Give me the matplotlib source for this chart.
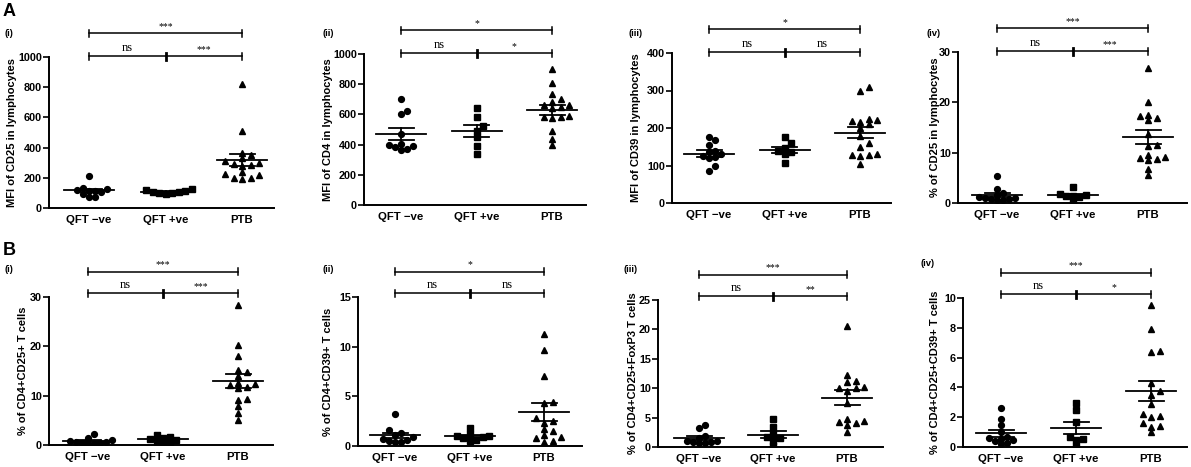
import numpy as np
import matplotlib
matplotlib.use("Agg")
import matplotlib.pyplot as plt

plt.rcParams['font.family'] = ['Liberation Sans', 'DejaVu Sans']
plt.rcParams['font.weight'] = 'bold'

W, H = 1191, 467

groups = ["QFT \u2212ve", "QFT +ve", "PTB"]

# values, one list per group
# A(i) MFI of CD25 in lymphocytes
a1_neg = [213, 130, 125, 120, 115, 110, 105, 95, 75, 72]
a1_pos = [125, 118, 110, 108, 105, 102, 100, 95]
a1_ptb = [820, 510, 365, 350, 330, 310, 300, 290, 285, 280, 240, 225, 220, 200, 200, 195]
# A(ii) MFI of CD4 in lymphocytes
a2_neg = [700, 622, 605, 470, 405, 395, 390, 385, 372, 365]
a2_pos = [640, 580, 520, 490, 450, 390, 340]
a2_ptb = [900, 805, 735, 700, 685, 665, 660, 650, 640, 590, 585, 580, 575, 490, 435, 395]
# A(iii) MFI of CD39 in lymphocytes
a3_neg = [175, 167, 155, 140, 135, 130, 125, 122, 120, 98, 85]
a3_pos = [175, 160, 148, 140, 135, 130, 108]
a3_ptb = [310, 300, 225, 222, 218, 215, 210, 200, 180, 160, 150, 130, 128, 128, 125, 105]
# A(iv) % of CD25 in lymphocytes
a4_neg = [5.3, 2.8, 1.9, 1.5, 1.2, 1.0, 0.9, 0.8, 0.7, 0.6, 0.5]
a4_pos = [3.1, 1.8, 1.5, 1.4, 1.3, 1.2, 0.4]
a4_ptb = [26.8, 20.0, 17.5, 17.2, 16.8, 16.5, 13.8, 11.5, 11.3, 9.5, 9.2, 9.0, 8.7, 8.5, 6.8, 5.6]
# B(i) % of CD4+CD25+ T cells
b1_neg = [2.2, 1.5, 1.0, 0.8, 0.7, 0.6, 0.5, 0.4, 0.3, 0.3]
b1_pos = [2.0, 1.7, 1.5, 1.3, 1.0, 0.8, 0.6, 0.3]
b1_ptb = [28.3, 20.2, 18.1, 15.2, 14.8, 14.0, 12.6, 12.3, 12.1, 11.8, 11.5, 9.4, 9.1, 8.0, 6.5, 5.1]
# B(ii) % of CD4+CD39+ T cells
b2_neg = [3.2, 1.6, 1.3, 1.1, 0.9, 0.7, 0.6, 0.5, 0.4, 0.4]
b2_pos = [1.8, 1.2, 1.0, 1.0, 0.9, 0.8, 0.6, 0.5]
b2_ptb = [11.3, 9.7, 7.0, 4.4, 4.3, 2.8, 2.5, 2.3, 1.7, 1.5, 1.1, 0.9, 0.8, 0.5, 0.4]
# B(iii) % of CD4+CD25+FoxP3 T cells
b3_neg = [3.7, 3.2, 1.9, 1.5, 1.1, 1.0, 0.9, 0.8, 0.7, 0.6]
b3_pos = [4.7, 3.4, 2.2, 1.7, 1.6, 1.0, 0.1]
b3_ptb = [20.6, 12.3, 11.2, 11.1, 10.2, 10.0, 10.0, 9.5, 7.4, 4.7, 4.5, 4.3, 4.0, 3.7, 2.6]
# B(iv) % of CD4+CD25+CD39+ T cells
b4_neg = [2.65, 1.85, 1.45, 1.0, 0.65, 0.6, 0.55, 0.45, 0.4, 0.3, 0.2]
b4_pos = [2.95, 2.45, 1.7, 0.65, 0.55, 0.5, 0.1]
b4_ptb = [9.5, 7.9, 6.45, 6.4, 4.3, 3.75, 3.5, 2.9, 2.2, 2.1, 2.0, 1.6, 1.4, 1.35, 1.0]

ylabels = ["MFI of CD25 in lymphocytes", "MFI of CD4 in lymphocytes",
           "MFI of CD39 in lymphocytes", "% of CD25 in lymphocytes",
           "% of CD4+CD25+ T cells", "% of CD4+CD39+ T cells",
           "% of CD4+CD25+FoxP3 T cells", "% of CD4+CD25+CD39+ T cells"]
ymax = [1000, 1000, 400, 30, 30, 15, 25, 10]
ystep = [200, 200, 100, 10, 10, 5, 5, 2]
roman = ["(i)", "(ii)", "(iii)", "(iv)", "(i)", "(ii)", "(iii)", "(iv)"]
# significance: (QFT-ve vs PTB, QFT-ve vs QFT+ve, QFT+ve vs PTB)
sig = [("***", "ns", "***"), ("*", "ns", "*"), ("*", "ns", "ns"), ("***", "ns", "***"),
       ("***", "ns", "***"), ("*", "ns", "ns"), ("***", "ns", "**"), ("***", "ns", "*")]
data = [(a1_neg, a1_pos, a1_ptb), (a2_neg, a2_pos, a2_ptb), (a3_neg, a3_pos, a3_ptb),
        (a4_neg, a4_pos, a4_ptb), (b1_neg, b1_pos, b1_ptb), (b2_neg, b2_pos, b2_ptb),
        (b3_neg, b3_pos, b3_ptb), (b4_neg, b4_pos, b4_ptb)]

# layout in pixels: axis left, axis right, y of 0, y of top, x of first and last group,
# y-label x, roman label x,y
layout = [(49, 274, 208, 57, 89, 242, 12, 9, 34),
          (364, 586, 205, 54, 401, 552, 328, 328, 33),
          (672, 891, 203, 53, 709, 860, 636, 636, 33),
          (958, 1187, 203, 52, 997, 1148, 935, 934, 33),
          (49, 273, 445, 297, 88, 238, 23, 9, 270),
          (358, 582, 446, 297, 395, 544, 328, 328, 270),
          (658, 883, 447, 300, 699, 847, 633, 631, 270),
          (963, 1187, 447, 298, 1001, 1151, 935, 928, 264)]


def swarm(vals, top, h_px, sp_px, dx, dy=5.0):
    # points closer than dy px in height are pushed sideways by dx px (row-like swarm)
    y = np.asarray(vals, float) / top * h_px
    cands = [0.0]
    for s in np.arange(0.5, 45, 0.5):
        cands += [s, -s]
    px, py = [], []
    off = np.zeros(len(y))
    for i in np.argsort(y):
        for c in cands:
            if all(abs(c - a) >= dx or abs(y[i] - b) >= dy for a, b in zip(px, py)):
                break
        px.append(c)
        py.append(y[i])
        off[i] = c / sp_px
    return off


fig = plt.figure(figsize=(W / 100, H / 100), dpi=100)
markers = [("o", 4.2, 6.0), ("s", 3.9, 6.5), ("^", 4.8, 8.5)]

for k in range(8):
    l, r, y0, yt, c0, c2, ylx, rx, ry = layout[k]
    h_px = y0 - yt
    sp = (c2 - c0) / 2
    ax = fig.add_axes([l / W, 1 - y0 / H, (r - l) / W, h_px / H])
    for i, vals in enumerate(data[k]):
        v = np.asarray(vals, float)
        m, ms, dx = markers[i]
        xs = i + swarm(v, ymax[k], h_px, sp, dx)
        ax.plot(xs, v, ls="none", marker=m, ms=ms, color="black", mec="black", zorder=3)
        mean = v.mean()
        sem = v.std(ddof=1) / np.sqrt(len(v))
        mh, ch = 25 / sp, 12.5 / sp
        ax.plot([i - mh, i + mh], [mean, mean], color="black", lw=1.3, zorder=4)
        ax.plot([i, i], [mean - sem, mean + sem], color="black", lw=1.3, zorder=4)
        for e in (mean - sem, mean + sem):
            ax.plot([i - ch, i + ch], [e, e], color="black", lw=1.3, zorder=4)

    ax.set_xlim((l - c0) / sp, (r - c0) / sp)
    ax.set_ylim(0, ymax[k])
    ax.set_yticks(np.arange(0, ymax[k] + ystep[k] / 2, ystep[k]))
    ax.set_xticks(range(3))
    ax.set_xticklabels(groups, fontsize=8.2)
    ax.tick_params(axis="x", length=0, pad=5)
    ax.tick_params(axis="y", length=4, width=1.2, pad=1, labelsize=7.8)
    for s in ("top", "right"):
        ax.spines[s].set_visible(False)
    for s in ("left", "bottom"):
        ax.spines[s].set_linewidth(1.4)

    # brackets above the axes
    tr = ax.get_xaxis_transform()
    low = 1 + (1 if k < 4 else 4) / h_px
    up = low + (23 if k < 4 else 21.5) / h_px
    tk = 3.5 / h_px
    ax.plot([0, 1], [low, low], color="black", lw=1.1, transform=tr, clip_on=False)
    ax.plot([1, 2], [low, low], color="black", lw=1.1, transform=tr, clip_on=False)
    ax.plot([0, 2], [up, up], color="black", lw=1.1, transform=tr, clip_on=False)
    for x in (0, 2):
        ax.plot([x, x], [low - tk, low + tk], color="black", lw=1.1, transform=tr, clip_on=False)
        ax.plot([x, x], [up - tk, up + tk], color="black", lw=1.1, transform=tr, clip_on=False)
    ax.plot([1, 1], [low - tk, low + tk], color="black", lw=2.0, transform=tr, clip_on=False)
    top_s, left_s, right_s = sig[k]
    fs = dict(family="Liberation Serif", fontweight="normal", ha="center", va="bottom",
              transform=tr)
    ax.text(1, up + 2 / h_px, top_s, fontsize=7 if "*" in top_s else 9, **fs)
    ax.text(0.5, low + 2 / h_px, left_s, fontsize=7 if "*" in left_s else 9, **fs)
    ax.text(1.5, low + 2 / h_px, right_s, fontsize=7 if "*" in right_s else 9, **fs)

    fig.text(ylx / W, 1 - (y0 + yt) / 2 / H, ylabels[k], rotation=90, ha="center",
             va="center", fontsize=8.0)
    fig.text(rx / W, 1 - ry / H, roman[k], ha="center", va="center", fontsize=6.8)

fig.text(3 / W, 1 - 11 / H, "A", ha="left", va="center", fontsize=13)
fig.text(3 / W, 1 - 251 / H, "B", ha="left", va="center", fontsize=13)

fig.savefig("out.png", dpi=100)
